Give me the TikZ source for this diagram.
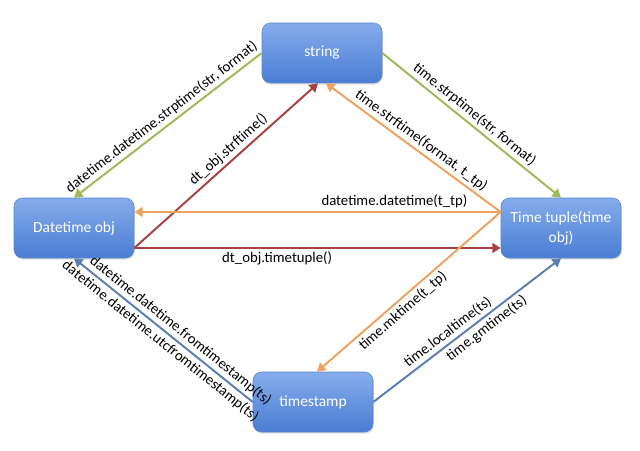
\documentclass[tikz,border=0pt]{standalone}
\usepackage{fontspec}
\setmainfont{Carlito}
\usetikzlibrary{arrows.meta,shadows}
\definecolor{boxtop}{HTML}{86ACEC}
\definecolor{boxbot}{HTML}{4A7DD4}
\definecolor{boxedge}{HTML}{5C86CC}
\definecolor{convgreen}{HTML}{9BBB59}
\definecolor{convred}{HTML}{A8423F}
\definecolor{convorange}{HTML}{EFA25E}
\definecolor{convblue}{HTML}{5B7FB5}
\begin{document}
\begin{tikzpicture}[
    box/.style={draw=boxedge, rounded corners=6pt, top color=boxtop, bottom color=boxbot,
        text=white, minimum width=3cm, minimum height=1.5cm, inner sep=2pt, align=center,
        font=\fontsize{11}{14}\selectfont,
        drop shadow={opacity=0.25, shadow xshift=0.6pt, shadow yshift=-1.2pt}},
    conv/.style={line width=1.4pt, -{Triangle[length=6pt,width=7pt]}},
    lbl/.style={font=\fontsize{10.5}{12}\selectfont, sloped, inner sep=2pt, text=black}
]
    \useasboundingbox (0,0) rectangle (16,11.25);
    \node (str) at (8.05,9.925) [box] {string};
    \node (dt) at (1.85,5.55) [box] {Datetime obj};
    \node (tt) at (14.025,5.55) [box] {Time tuple(time\\obj)};
    \node (ts) at (7.825,1.2) [box] {timestamp};
    \draw[conv, convgreen] (str.west) -- node[lbl, above, pos=0.5] (strp) {datetime.datetime.strptime(str, format)} (dt.north);
    \draw[conv, convgreen] (str.east) -- node[lbl, above, pos=0.48] (tstrp) {time.strptime(str, format)} (tt.north);
    \draw[conv, convred] ([yshift=-5mm]dt.east) -- node[lbl, above, pos=0.55] (strf) {dt\_obj.strftime()} ([xshift=-1mm]str.south);
    \draw[conv, convred] ([yshift=-5mm]dt.east) -- node[lbl, below, pos=0.39] (ttup) {dt\_obj.timetuple()} ([yshift=-5mm]tt.west);
    \draw[conv, convorange] ([yshift=4mm]tt.west) -- node[lbl, above, pos=0.29] (dtdt) {datetime.datetime(t\_tp)} ([yshift=4mm]dt.east);
    \draw[conv, convorange] ([yshift=4mm]tt.west) -- node[lbl, above, pos=0.49] (tstrf) {time.strftime(format, t\_tp)} ([xshift=1mm]str.south);
    \draw[conv, convorange] ([yshift=4mm]tt.west) -- node[lbl, below, pos=0.57] (mkt) {time.mktime(t\_tp)} ([xshift=1mm]ts.north);
    \draw[conv, convblue] (ts.east) -- node[lbl, above, pos=0.43] (loct) {time.localtime(ts)}
        node[lbl, below, pos=0.57] (gmt) {time.gmtime(ts)} (tt.south);
    \draw[conv, convblue] (ts.west) -- node[lbl, above, pos=0.44] (fromts) {datetime.datetime.fromtimestamp(ts)}
        node[lbl, below, pos=0.48] (utcts) {datetime.datetime.utcfromtimestamp(ts)} (dt.south);
\end{tikzpicture}
\end{document}
